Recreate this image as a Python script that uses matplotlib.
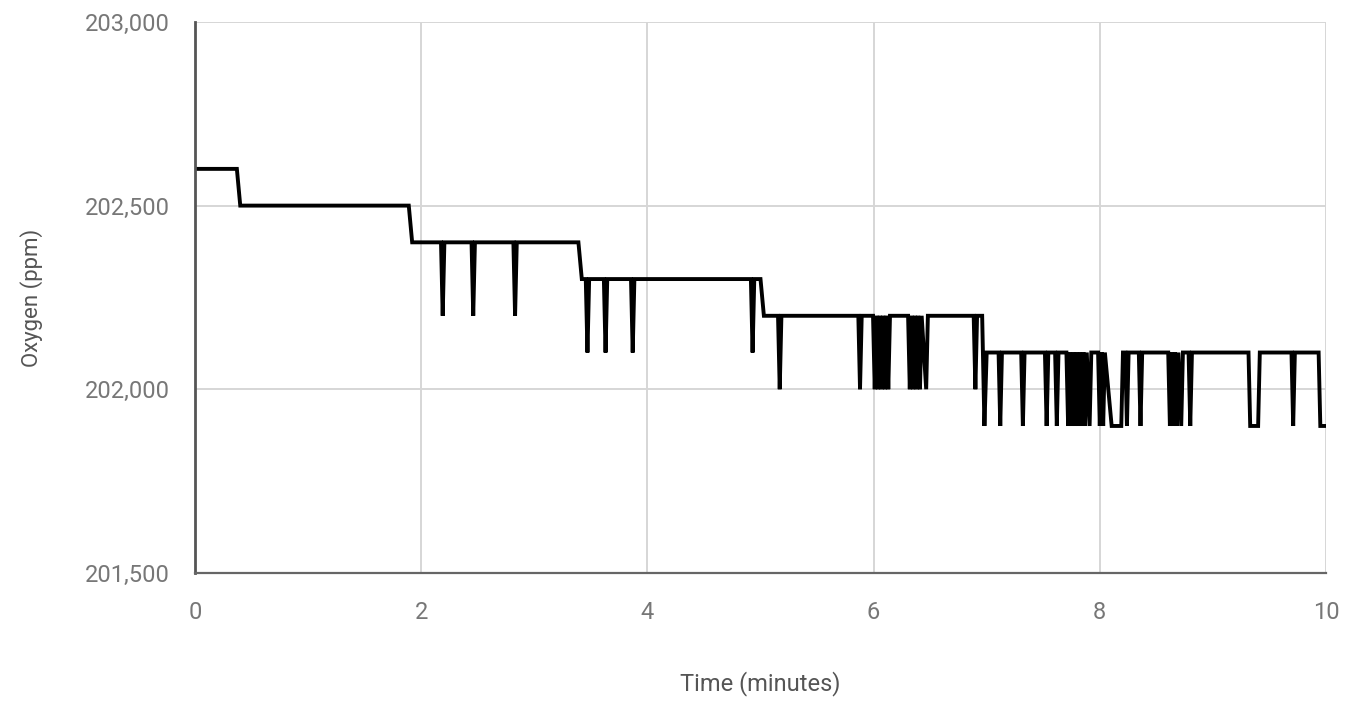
import matplotlib
matplotlib.use("Agg")
import matplotlib.pyplot as plt
from matplotlib.ticker import FuncFormatter

# Breakpoints of the oxygen trace (minutes, ppm)
time_min = [
    0.00, 0.37, 0.40, 1.89, 1.92,
    2.175, 2.19, 2.205, 2.445, 2.46, 2.475, 2.815, 2.83, 2.845,
    3.39, 3.42, 3.455, 3.47, 3.485, 3.615, 3.63, 3.645, 3.855, 3.87, 3.885,
    4.915, 4.93, 4.945, 5.00, 5.03,
    5.155, 5.17, 5.185, 5.865, 5.88, 5.895,
    5.995, 6.01, 6.025, 6.04, 6.055, 6.07, 6.085, 6.10, 6.115, 6.13, 6.145,
    6.305, 6.32, 6.335, 6.35, 6.365, 6.38, 6.395, 6.41, 6.425, 6.465, 6.48, 6.495,
    6.885, 6.90, 6.915, 6.96, 6.98, 7.00,
    7.105, 7.12, 7.135, 7.305, 7.32, 7.335, 7.515, 7.53, 7.545, 7.605, 7.62, 7.635,
    7.705, 7.72, 7.735, 7.75, 7.765, 7.78, 7.795, 7.81, 7.825, 7.84, 7.855,
    7.87, 7.885, 7.91, 7.925,
    7.985, 8.00, 8.015, 8.03, 8.045, 8.105, 8.12, 8.19, 8.205,
    8.225, 8.24, 8.255, 8.345, 8.36, 8.375,
    8.605, 8.62, 8.635, 8.65, 8.665, 8.68, 8.695, 8.72, 8.735, 8.76,
    8.785, 8.80, 8.815,
    9.315, 9.33, 9.40, 9.415, 9.695, 9.71, 9.725, 9.935, 9.95, 10.00,
]
oxygen_ppm = [
    202600, 202600, 202500, 202500, 202400,
    202400, 202200, 202400, 202400, 202200, 202400, 202400, 202200, 202400,
    202400, 202300, 202300, 202100, 202300, 202300, 202100, 202300, 202300, 202100, 202300,
    202300, 202100, 202300, 202300, 202200,
    202200, 202000, 202200, 202200, 202000, 202200,
    202200, 202000, 202200, 202000, 202200, 202000, 202200, 202000, 202200, 202000, 202200,
    202200, 202000, 202200, 202000, 202200, 202000, 202200, 202000, 202200, 202000, 202200, 202200,
    202200, 202000, 202200, 202200, 201900, 202100,
    202100, 201900, 202100, 202100, 201900, 202100, 202100, 201900, 202100, 202100, 201900, 202100,
    202100, 201900, 202100, 201900, 202100, 201900, 202100, 201900, 202100, 201900, 202100,
    201900, 202100, 201900, 202100,
    202100, 201900, 202100, 201900, 202100, 201900, 201900, 201900, 202100,
    202100, 201900, 202100, 202100, 201900, 202100,
    202100, 201900, 202100, 201900, 202100, 201900, 202100, 201900, 202100, 202100,
    202100, 201900, 202100,
    202100, 201900, 201900, 202100, 202100, 201900, 202100, 202100, 201900, 201900,
]

x_ticks = [0, 2, 4, 6, 8, 10]
y_ticks = [201500, 202000, 202500, 203000]

plt.rcParams['font.family'] = ['Roboto', 'DejaVu Sans']

fig = plt.figure(figsize=(13.59, 7.09), dpi=100)
ax = fig.add_axes([0.1435, 0.192, 0.8322, 0.777])

ax.plot(time_min, oxygen_ppm, color='black', linewidth=2.8, solid_joinstyle='miter')

ax.set_xlim(0, 10)
ax.set_ylim(201500, 203000)
ax.set_xticks(x_ticks)
ax.set_yticks(y_ticks)
ax.yaxis.set_major_formatter(FuncFormatter(lambda v, p: f"{int(v):,}"))

ax.grid(True, color='#d6d6d6', linewidth=1.4)
ax.set_axisbelow(True)
for s in ['top', 'right']:
    ax.spines[s].set_visible(False)
ax.spines['left'].set_color('#555555')
ax.spines['left'].set_linewidth(2.0)
ax.spines['bottom'].set_color('#666666')
ax.spines['bottom'].set_linewidth(1.6)
ax.tick_params(length=0, labelsize=17, colors='#777777')
ax.tick_params(axis='x', pad=20)
ax.tick_params(axis='y', pad=18)

ax.set_xlabel('Time (minutes)', fontsize=17, color='#555555', labelpad=34)
ax.set_ylabel('Oxygen (ppm)', fontsize=16, color='#555555', labelpad=30)

fig.savefig('out.png', dpi=100, facecolor='white')
